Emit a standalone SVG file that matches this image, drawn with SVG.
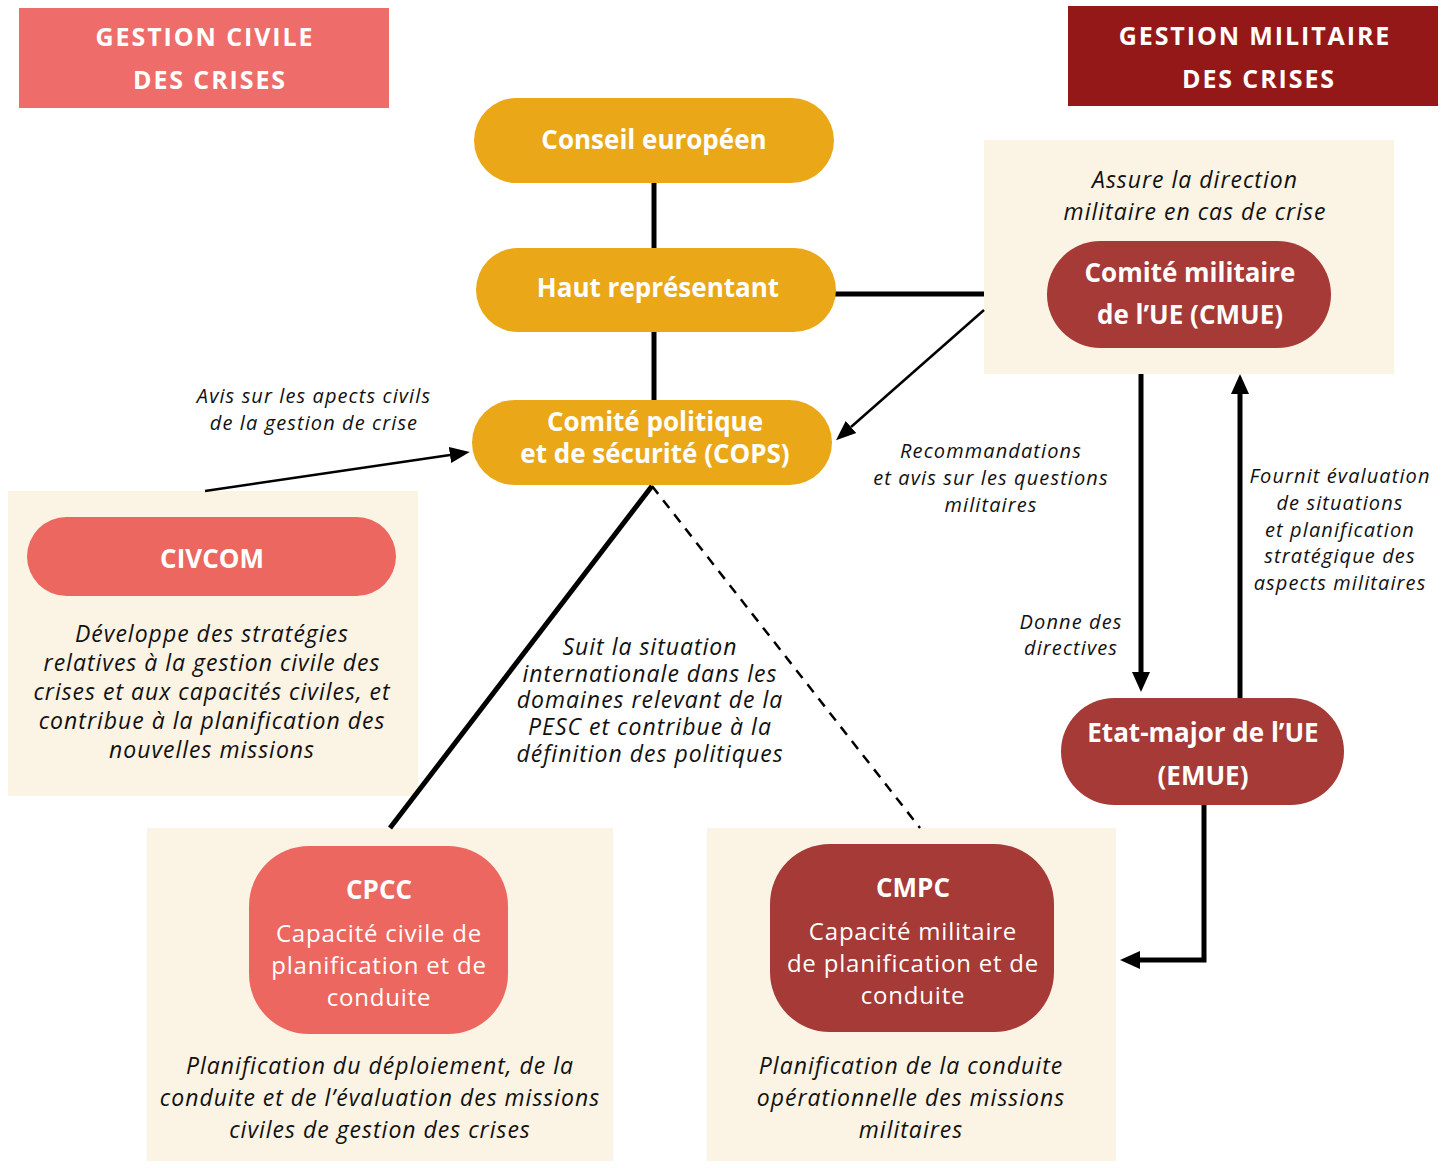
<svg xmlns="http://www.w3.org/2000/svg" width="1447" height="1168" viewBox="0 0 1447 1168">
  <style>
    .hdr { font-family: "Open Sans", "Liberation Sans", sans-serif; font-weight: 700; font-size: 25px; fill: #fff; text-anchor: middle; letter-spacing: 1.9px; }
    .nodeB { font-family: "Open Sans", "Liberation Sans", sans-serif; font-weight: 700; font-size: 26px; fill: #fff; text-anchor: middle; }
    .nodeR { font-family: "Open Sans", "Liberation Sans", sans-serif; font-weight: 400; font-size: 24px; fill: #fff; text-anchor: middle; letter-spacing: 0.8px; }
    .desc { font-family: "Open Sans", "Liberation Sans", sans-serif; font-style: italic; font-size: 23px; fill: #111; text-anchor: middle; letter-spacing: 1px; }
    .lbl { font-family: "Open Sans", "Liberation Sans", sans-serif; font-style: italic; font-size: 20px; fill: #111; text-anchor: middle; letter-spacing: 1.1px; }
    .panel { fill: #FBF3E3; }
    .gold { fill: #EAA818; }
    .coral { fill: #EC675F; }
    .brick { fill: #A53A36; }
    .thick { stroke: #000; stroke-width: 5; fill: none; }
    .thin { stroke: #000; stroke-width: 2.5; fill: none; }
  </style>
  <defs>
    <marker id="arrowBig" markerUnits="userSpaceOnUse" markerWidth="20" markerHeight="20" refX="0" refY="10" orient="auto">
      <path d="M0,1 L20,10 L0,19 z" fill="#000"/>
    </marker>
    <marker id="arrowSmall" markerUnits="userSpaceOnUse" markerWidth="20" markerHeight="18" refX="0" refY="9" orient="auto">
      <path d="M0,1 L20,9 L0,17 z" fill="#000"/>
    </marker>
  </defs>

  <!-- Headers -->
  <g id="header-civil">
    <rect x="19" y="8" width="370" height="100" fill="#EE6D6B"/>
    <text class="hdr" x="205" y="46">GESTION CIVILE</text>
    <text class="hdr" x="210" y="89">DES CRISES</text>
  </g>
  <g id="header-militaire">
    <rect x="1068" y="6" width="370" height="100" fill="#951818"/>
    <text class="hdr" x="1255" y="45">GESTION MILITAIRE</text>
    <text class="hdr" x="1259" y="88">DES CRISES</text>
  </g>

  <!-- Panels -->
  <g id="panel-cmue">
    <rect class="panel" x="984" y="140" width="410" height="234"/>
    <text class="desc" x="1195" y="188">Assure la direction</text>
    <text class="desc" x="1195" y="220">militaire en cas de crise</text>
  </g>
  <g id="panel-civcom">
    <rect class="panel" x="8" y="491" width="410" height="305"/>
    <text class="desc" x="212" y="642">Développe des stratégies</text>
    <text class="desc" x="212" y="671">relatives à la gestion civile des</text>
    <text class="desc" x="212" y="700">crises et aux capacités civiles, et</text>
    <text class="desc" x="212" y="729">contribue à la planification des</text>
    <text class="desc" x="212" y="758">nouvelles missions</text>
  </g>
  <g id="panel-cpcc">
    <rect class="panel" x="147" y="828" width="466" height="333"/>
    <text class="desc" x="380" y="1074">Planification du déploiement, de la</text>
    <text class="desc" x="380" y="1106">conduite et de l’évaluation des missions</text>
    <text class="desc" x="380" y="1138">civiles de gestion des crises</text>
  </g>
  <g id="panel-cmpc">
    <rect class="panel" x="707" y="828" width="409" height="333"/>
    <text class="desc" x="911" y="1074">Planification de la conduite</text>
    <text class="desc" x="911" y="1106">opérationnelle des missions</text>
    <text class="desc" x="911" y="1138">militaires</text>
  </g>

  <!-- Connectors -->
  <g id="connectors">
    <line class="thick" x1="654" y1="182" x2="654" y2="249"/>
    <line class="thick" x1="654" y1="331" x2="654" y2="401"/>
    <line class="thick" x1="835" y1="294" x2="984" y2="294"/>
    <line class="thin" x1="984" y1="310" x2="851" y2="427" marker-end="url(#arrowSmall)"/>
    <line class="thin" x1="205" y1="491" x2="450" y2="455" marker-end="url(#arrowSmall)"/>
    <line class="thick" x1="652" y1="486" x2="390" y2="828"/>
    <line class="thin" x1="652" y1="486" x2="920" y2="828" stroke-dasharray="10 8"/>
    <line class="thick" x1="1141" y1="374" x2="1141" y2="672" marker-end="url(#arrowBig)"/>
    <line class="thick" x1="1240" y1="698" x2="1240" y2="394" marker-end="url(#arrowBig)"/>
    <path class="thick" d="M1204,805 V960 H1140" marker-end="url(#arrowBig)"/>
  </g>

  <!-- Connector labels -->
  <g id="labels">
    <text class="lbl" x="314" y="403">Avis sur les apects civils</text>
    <text class="lbl" x="314" y="430">de la gestion de crise</text>
    <text class="lbl" x="991" y="458">Recommandations</text>
    <text class="lbl" x="991" y="485">et avis sur les questions</text>
    <text class="lbl" x="991" y="512">militaires</text>
    <text class="lbl" x="1071" y="629">Donne des</text>
    <text class="lbl" x="1071" y="655">directives</text>
    <text class="lbl" x="1340" y="483">Fournit évaluation</text>
    <text class="lbl" x="1340" y="510">de situations</text>
    <text class="lbl" x="1340" y="537">et planification</text>
    <text class="lbl" x="1340" y="563">stratégique des</text>
    <text class="lbl" x="1340" y="590">aspects militaires</text>
    <text class="desc" x="650" y="655">Suit la situation</text>
    <text class="desc" x="650" y="682">internationale dans les</text>
    <text class="desc" x="650" y="708">domaines relevant de la</text>
    <text class="desc" x="650" y="735">PESC et contribue à la</text>
    <text class="desc" x="650" y="762">définition des politiques</text>
  </g>

  <!-- Nodes -->
  <g id="conseil">
    <rect class="gold" x="474" y="98" width="360" height="85" rx="42.5"/>
    <text class="nodeB" x="654" y="149">Conseil européen</text>
  </g>
  <g id="haut-representant">
    <rect class="gold" x="476" y="248" width="360" height="84" rx="42"/>
    <text class="nodeB" x="658" y="297">Haut représentant</text>
  </g>
  <g id="cops">
    <rect class="gold" x="472" y="400" width="360" height="85" rx="42.5"/>
    <text class="nodeB" x="655" y="431">Comité politique</text>
    <text class="nodeB" x="655" y="463">et de sécurité (COPS)</text>
  </g>
  <g id="cmue">
    <rect class="brick" x="1047" y="241" width="284" height="107" rx="53.5"/>
    <text class="nodeB" x="1190" y="282">Comité militaire</text>
    <text class="nodeB" x="1190" y="324">de l’UE (CMUE)</text>
  </g>
  <g id="emue">
    <rect class="brick" x="1061" y="698" width="283" height="107" rx="53.5"/>
    <text class="nodeB" x="1203" y="742">Etat-major de l’UE</text>
    <text class="nodeB" x="1203" y="785">(EMUE)</text>
  </g>
  <g id="civcom">
    <rect class="coral" x="27" y="517" width="369" height="79" rx="39.5"/>
    <text class="nodeB" x="212" y="568">CIVCOM</text>
  </g>
  <g id="cpcc">
    <rect class="coral" x="249" y="846" width="259" height="188" rx="60"/>
    <text class="nodeB" x="379" y="899">CPCC</text>
    <text class="nodeR" x="379" y="942">Capacité civile de</text>
    <text class="nodeR" x="379" y="974">planification et de</text>
    <text class="nodeR" x="379" y="1006">conduite</text>
  </g>
  <g id="cmpc">
    <rect class="brick" x="770" y="844" width="284" height="188" rx="60"/>
    <text class="nodeB" x="913" y="897">CMPC</text>
    <text class="nodeR" x="913" y="940">Capacité militaire</text>
    <text class="nodeR" x="913" y="972">de planification et de</text>
    <text class="nodeR" x="913" y="1004">conduite</text>
  </g>
</svg>
